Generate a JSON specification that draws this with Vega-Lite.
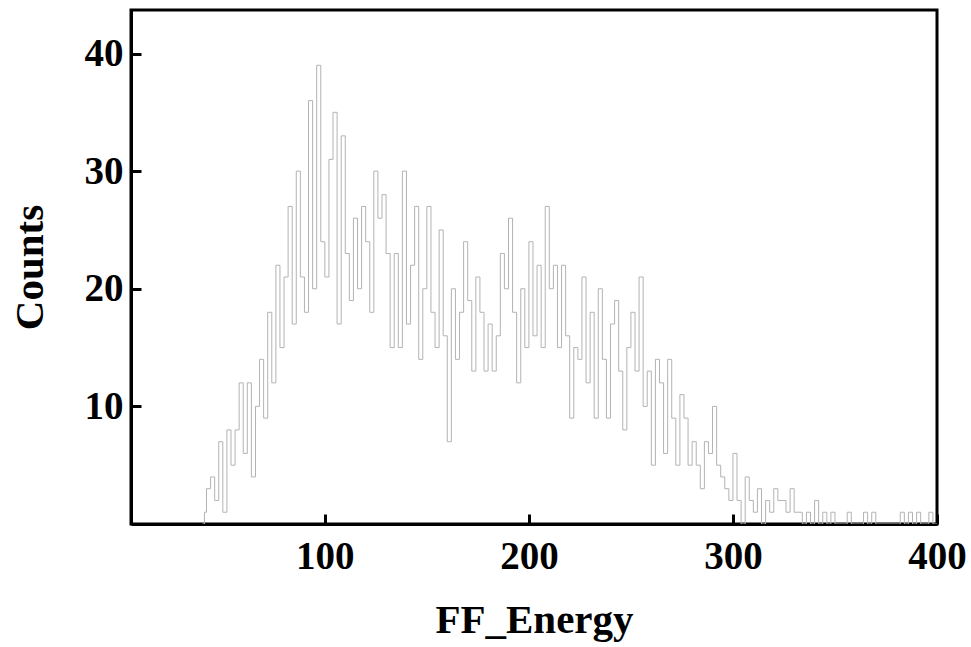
{
  "$schema": "https://vega.github.io/schema/vega-lite/v6.json",
  "autosize": {"type": "none"},
  "width": 806,
  "height": 514,
  "padding": {"left": 131, "top": 10, "right": 34, "bottom": 123},
  "background": "white",
  "config": {
    "view": {"stroke": "#000", "strokeWidth": 3},
    "font": "Liberation Serif",
    "axis": {
      "domainColor": "#000", "domainWidth": 3,
      "tickColor": "#000", "tickWidth": 3, "tickSize": -10,
      "grid": false,
      "labelFont": "Liberation Serif", "labelFontWeight": "bold", "labelFontSize": 39, "labelColor": "#000",
      "titleFont": "Liberation Serif", "titleFontWeight": "bold", "titleFontSize": 41, "titleColor": "#000"
    }
  },
  "data": {"values": [
    {"e":40,"c":0},{"e":41,"c":1},{"e":42,"c":3},{"e":44,"c":4},{"e":46,"c":2},{"e":48,"c":7},{"e":50,"c":1},{"e":52,"c":8},{"e":54,"c":5},{"e":56,"c":8},{"e":58,"c":12},
    {"e":60,"c":6},{"e":62,"c":12},{"e":64,"c":4},{"e":66,"c":10},{"e":68,"c":14},{"e":70,"c":9},{"e":72,"c":18},{"e":74,"c":12},{"e":76,"c":22},{"e":78,"c":15},
    {"e":80,"c":21},{"e":82,"c":27},{"e":84,"c":17},{"e":86,"c":30},{"e":88,"c":21},{"e":90,"c":18},{"e":92,"c":36},{"e":94,"c":20},{"e":96,"c":39},{"e":98,"c":24},
    {"e":100,"c":21},{"e":102,"c":31},{"e":104,"c":35},{"e":106,"c":17},{"e":108,"c":33},{"e":110,"c":23},{"e":112,"c":19},{"e":114,"c":26},{"e":116,"c":20},{"e":118,"c":27},
    {"e":120,"c":24},{"e":122,"c":18},{"e":124,"c":30},{"e":126,"c":26},{"e":128,"c":28},{"e":130,"c":23},{"e":132,"c":15},{"e":134,"c":23},{"e":136,"c":15},{"e":138,"c":30},
    {"e":140,"c":17},{"e":142,"c":22},{"e":144,"c":27},{"e":146,"c":14},{"e":148,"c":20},{"e":150,"c":27},{"e":152,"c":18},{"e":154,"c":15},{"e":156,"c":25},{"e":158,"c":16},
    {"e":160,"c":7},{"e":162,"c":20},{"e":164,"c":14},{"e":166,"c":18},{"e":168,"c":24},{"e":170,"c":19},{"e":172,"c":13},{"e":174,"c":21},{"e":176,"c":18},{"e":178,"c":13},
    {"e":180,"c":17},{"e":182,"c":13},{"e":184,"c":16},{"e":186,"c":23},{"e":188,"c":20},{"e":190,"c":26},{"e":192,"c":18},{"e":194,"c":12},{"e":196,"c":20},{"e":198,"c":15},
    {"e":200,"c":24},{"e":202,"c":16},{"e":204,"c":22},{"e":206,"c":15},{"e":208,"c":27},{"e":210,"c":20},{"e":212,"c":22},{"e":214,"c":15},{"e":216,"c":22},{"e":218,"c":16},
    {"e":220,"c":9},{"e":222,"c":15},{"e":224,"c":14},{"e":226,"c":21},{"e":228,"c":12},{"e":230,"c":18},{"e":232,"c":9},{"e":234,"c":20},{"e":236,"c":14},{"e":238,"c":9},
    {"e":240,"c":17},{"e":242,"c":19},{"e":244,"c":13},{"e":246,"c":8},{"e":248,"c":15},{"e":250,"c":18},{"e":252,"c":13},{"e":254,"c":21},{"e":256,"c":10},{"e":258,"c":13},
    {"e":260,"c":5},{"e":262,"c":14},{"e":264,"c":12},{"e":266,"c":6},{"e":268,"c":14},{"e":270,"c":9},{"e":272,"c":5},{"e":274,"c":11},{"e":276,"c":9},{"e":278,"c":5},
    {"e":280,"c":7},{"e":282,"c":5},{"e":284,"c":3},{"e":286,"c":7},{"e":288,"c":6},{"e":290,"c":10},{"e":292,"c":5},{"e":294,"c":4},{"e":296,"c":3},{"e":298,"c":2},
    {"e":300,"c":6},{"e":302,"c":2},{"e":304,"c":0},{"e":306,"c":4},{"e":308,"c":2},{"e":310,"c":1},{"e":312,"c":3},{"e":314,"c":0},{"e":316,"c":2},{"e":318,"c":1},
    {"e":320,"c":3},{"e":322,"c":2},{"e":324,"c":2},{"e":326,"c":1},{"e":328,"c":3},{"e":330,"c":1},{"e":332,"c":1},{"e":334,"c":0},{"e":336,"c":1},{"e":338,"c":0},
    {"e":340,"c":2},{"e":342,"c":0},{"e":344,"c":1},{"e":346,"c":0},{"e":348,"c":1},{"e":350,"c":0},{"e":352,"c":0},{"e":354,"c":0},{"e":356,"c":1},{"e":358,"c":0},
    {"e":360,"c":0},{"e":362,"c":0},{"e":364,"c":1},{"e":366,"c":0},{"e":368,"c":1},{"e":370,"c":0},{"e":372,"c":0},{"e":374,"c":0},{"e":376,"c":0},{"e":378,"c":0},
    {"e":380,"c":0},{"e":382,"c":1},{"e":384,"c":0},{"e":386,"c":1},{"e":388,"c":0},{"e":390,"c":1},{"e":392,"c":0},{"e":394,"c":0},{"e":396,"c":1},{"e":398,"c":0},
    {"e":400,"c":0}
  ]},
  "mark": {"type": "line", "interpolate": "step-after", "color": "#b3b3b3", "strokeWidth": 1, "clip": true},
  "encoding": {
    "x": {"field": "e", "type": "quantitative", "title": "FF_Energy",
      "scale": {"domain": [5, 400], "nice": false, "zero": false},
      "axis": {"values": [100, 200, 300, 400], "labelPadding": 23, "titlePadding": 24, "labelFlush": false}},
    "y": {"field": "c", "type": "quantitative", "title": "Counts",
      "scale": {"domain": [0, 43.7], "nice": false},
      "axis": {"values": [10, 20, 30, 40], "labelPadding": 18, "titlePadding": 33}}
  }
}
